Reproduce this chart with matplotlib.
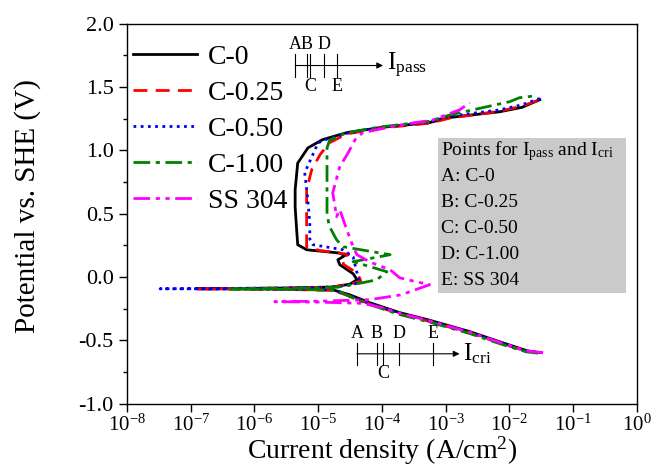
import numpy as np
import matplotlib
matplotlib.use("Agg")
import matplotlib.pyplot as plt
from matplotlib.patches import Rectangle

plt.rcParams['font.family'] = ['Liberation Serif', 'DejaVu Serif']
plt.rcParams['mathtext.fontset'] = 'custom'
plt.rcParams['mathtext.rm'] = 'Liberation Serif'
plt.rcParams['mathtext.it'] = 'Liberation Serif:italic'

# polarisation curves: log10 of current density (A/cm2) and potential (V vs SHE)
c0_logi = [-1.55, -1.73, -2.15, -2.62, -3.25, -3.72, -4.2, -4.5, -4.77, -5.5, -6.2, -6.9,
           -6.2, -5.5, -4.77, -4.5, -4.39, -4.45, -4.66, -4.69, -4.58, -4.66, -5.18, -5.32,
           -5.34, -5.36, -5.36, -5.32, -5.16, -4.93, -4.55, -4.03, -3.25, -2.93, -2.15, -1.8, -1.52]
c0_v = [-0.595, -0.58, -0.51, -0.43, -0.34, -0.28, -0.20, -0.14, -0.10, -0.095, -0.093, -0.092,
        -0.089, -0.086, -0.078, -0.055, -0.02, 0.027, 0.098, 0.137, 0.17, 0.19, 0.216, 0.256,
        0.40, 0.55, 0.69, 0.90, 1.02, 1.085, 1.14, 1.18, 1.22, 1.26, 1.305, 1.34, 1.40]

c025_logi = [-1.47, -1.73, -2.15, -2.62, -3.25, -3.72, -4.2, -4.5, -4.77, -5.5, -6.2, -6.9,
             -6.2, -5.5, -4.8, -4.45, -4.33, -4.38, -4.6, -4.62, -4.52, -4.97, -5.18,
             -5.18, -5.18, -5.18, -5.10, -4.97, -4.82, -4.55, -4.03, -3.25, -2.93, -2.15, -1.8, -1.52]
c025_v = [-0.597, -0.585, -0.52, -0.44, -0.35, -0.29, -0.21, -0.15, -0.105, -0.097, -0.094, -0.092,
          -0.089, -0.086, -0.08, -0.05, -0.03, 0.03, 0.10, 0.15, 0.18, 0.21, 0.24,
          0.35, 0.55, 0.69, 0.848, 0.966, 1.061, 1.13, 1.175, 1.215, 1.255, 1.31, 1.35, 1.40]

c050_logi = [-1.5, -1.73, -2.15, -2.62, -3.25, -3.72, -4.2, -4.5, -4.77, -5.5, -6.5, -7.48,
             -6.5, -5.5, -4.8, -4.45, -4.35, -4.39, -4.45, -4.61, -5.08, -5.13,
             -5.13, -5.17, -5.21, -5.0, -4.86, -4.55, -4.03, -3.25, -2.93, -2.15, -1.8, -1.52]
c050_v = [-0.595, -0.58, -0.515, -0.435, -0.345, -0.285, -0.205, -0.145, -0.10, -0.095, -0.093, -0.092,
          -0.089, -0.086, -0.078, -0.06, -0.036, 0.035, 0.16, 0.216, 0.256, 0.30,
          0.43, 0.65, 0.824, 1.06, 1.09, 1.135, 1.18, 1.225, 1.27, 1.32, 1.36, 1.41]

c100_logi = [-1.55, -1.73, -2.15, -2.62, -3.25, -3.72, -4.2, -4.5, -4.7, -5.4, -6.4,
             -5.4, -4.7, -4.30, -4.08, -3.92, -4.45, -3.87, -4.61, -4.71, -4.82,
             -4.86, -4.86, -4.86, -4.86, -4.82, -4.55, -4.03, -3.25, -2.93, -1.99, -1.84, -1.6]
c100_v = [-0.60, -0.59, -0.525, -0.445, -0.355, -0.295, -0.215, -0.155, -0.105, -0.096, -0.093,
          -0.089, -0.08, -0.044, -0.021, 0.043, 0.122, 0.177, 0.24, 0.295, 0.398,
          0.49, 0.69, 0.85, 1.02, 1.08, 1.14, 1.185, 1.23, 1.28, 1.385, 1.416, 1.43]

ss304_logi = [-1.47, -1.73, -2.15, -2.62, -3.25, -3.72, -4.0, -4.3, -5.0, -5.68,
              -5.0, -4.19, -3.7, -3.25, -3.6, -3.72, -3.87, -4.19, -4.39, -4.45,
              -4.55, -4.66, -4.71, -4.77, -4.66, -4.53, -4.42, -4.30, -3.72, -3.2, -2.78, -2.62]
ss304_v = [-0.597, -0.582, -0.515, -0.435, -0.345, -0.285, -0.24, -0.207, -0.197, -0.194,
           -0.19, -0.178, -0.14, -0.06, -0.02, -0.005, 0.058, 0.12, 0.177, 0.24,
           0.374, 0.532, 0.477, 0.666, 0.871, 0.98, 1.084, 1.14, 1.20, 1.24, 1.32, 1.376]

labels = ['C-0', 'C-0.25', 'C-0.50', 'C-1.00', 'SS 304']
colors = ['black', '#ff0000', '#0000ee', '#008000', '#ff00ff']
styles = ['-', (0, (5, 3)), (0, (1, 1.6)), (0, (6, 2, 1.5, 2)), (0, (6, 2, 1.5, 2, 1.5, 2))]
curves = [(c0_logi, c0_v), (c025_logi, c025_v), (c050_logi, c050_v),
          (c100_logi, c100_v), (ss304_logi, ss304_v)]

# marker positions for I_pass and I_cri (log10 A/cm2), order A..E
point_names = ['A', 'B', 'C', 'D', 'E']
ipass_logi = [-5.36, -5.18, -5.13, -4.91, -4.71]
icri_logi = [-4.39, -4.08, -3.98, -3.73, -3.2]
ipass_v = 1.67
icri_v = -0.605

fig = plt.figure(figsize=(6.51, 4.74), dpi=100)
ax = fig.add_axes([0.195, 0.148, 0.783, 0.802])

for (li, v), lab, c, ls in zip(curves, labels, colors, styles):
    ax.plot(10.0 ** np.array(li), v, color=c, linestyle=ls, lw=2, label=lab)

ax.set_xscale('log')
ax.set_xlim(1e-8, 1e0)
ax.set_ylim(-1.0, 2.0)
ax.set_yticks(np.arange(-1.0, 2.01, 0.5))
ax.set_yticks(np.arange(-1.0, 2.01, 0.25), minor=True)
ax.set_yticklabels([f"{t:.1f}" for t in np.arange(-1.0, 2.01, 0.5)])
ax.set_xticks([10.0 ** k for k in range(-8, 1)])
ax.tick_params(which='both', direction='out', labelsize=16, width=1)
ax.tick_params(axis='x', labelsize=15, pad=2)
ax.tick_params(which='major', length=6)
ax.tick_params(which='minor', length=3)
for s in ax.spines.values():
    s.set_linewidth(1)

ax.set_xlabel('Current density (A/cm$^2$)', fontsize=20, labelpad=-1)
ax.set_ylabel('Potential vs. SHE (V)', fontsize=21)
ax.yaxis.set_label_coords(-0.168, 0.52)

leg = ax.legend(loc='upper left', bbox_to_anchor=(0.012, 0.945), frameon=False,
                fontsize=20, handlelength=2.3, handletextpad=0.4, labelspacing=0.38,
                borderaxespad=0, borderpad=0)

# I_pass / I_cri scales
def marker_row(logs, yv, tip, half, above, name, sub):
    ax.annotate('', xy=(10 ** tip, yv), xytext=(10 ** logs[0], yv),
                arrowprops=dict(arrowstyle='-|>', lw=0.8, color='k', mutation_scale=9,
                                shrinkA=0, shrinkB=0))
    for n, lg in zip(point_names, logs):
        ax.plot([10 ** lg, 10 ** lg], [yv - half, yv + half], color='k', lw=0.8)
        if n in above:
            ax.text(10 ** lg, yv + half + 0.005, n, ha='center', va='bottom', fontsize=13)
        else:
            ax.text(10 ** lg, yv - half - 0.005, n, ha='center', va='top', fontsize=13)
    ax.text(10 ** (tip + 0.06), yv, name + '$_{\\mathregular{' + sub + '}}$',
            ha='left', va='center', fontsize=18)

marker_row(ipass_logi, ipass_v, -3.98, 0.09, 'ABD', 'I', 'pass')
marker_row(icri_logi, icri_v, -2.78, 0.085, 'ABDE', 'I', 'cri')

# grey key box
ax.add_patch(Rectangle((0.61, 0.292), 0.37, 0.408, transform=ax.transAxes,
                       facecolor='#cacaca', edgecolor='none', zorder=3))
box_lines = ['Points for I$_{\\mathregular{pass}}$ and I$_{\\mathregular{cri}}$',
             'A: C-0', 'B: C-0.25', 'C: C-0.50', 'D: C-1.00', 'E: SS 304']
for k, t in enumerate(box_lines):
    ax.text(0.617, 0.665 - k * 0.068, t, transform=ax.transAxes, fontsize=14,
            ha='left', va='center', zorder=4)

fig.savefig('out.png', dpi=100)
